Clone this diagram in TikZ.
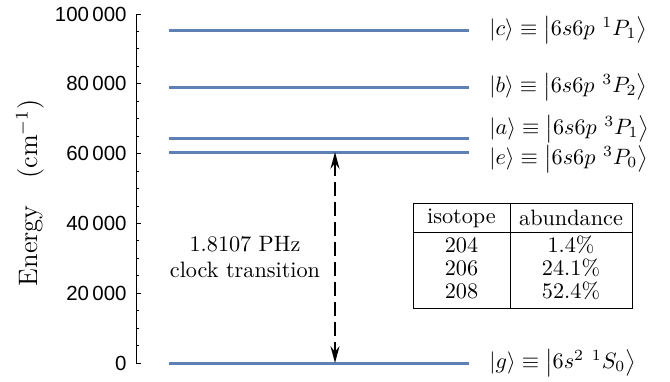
\documentclass[tikz,border=0pt]{standalone}
\usepackage{fontspec}
\newfontfamily\ticksf{Liberation Sans}
\usetikzlibrary{arrows.meta,positioning}
\definecolor{levelblue}{RGB}{94,129,181}

\begin{document}
\begin{tikzpicture}[x=0.45pt,y=-0.45pt,
    level/.style={draw=levelblue,line width=1.35pt},
    statelabel/.style={anchor=west,inner sep=0pt,font=\fontsize{10.3}{12}\selectfont},
    ticklabel/.style={anchor=east,inner sep=0pt,font=\ticksf\fontsize{9.2}{11}\selectfont},
    cell/.style={inner sep=0pt}]
    \useasboundingbox (0,0) rectangle (670,381);
    \draw[line width=0.45pt] (136,14) -- (136,363);
    \foreach \k in {5,10,...,95} \draw[line width=0.4pt] (136,{363-3.49*\k}) -- ++(2.5,0);
    \foreach \k/\lab in {0/0,20/20\,000,40/40\,000,60/60\,000,80/80\,000,100/100\,000}
        \draw[line width=0.4pt] (136,{363-3.49*\k}) -- ++(4.5,0) node[ticklabel] at (127,{363-3.49*\k}) {\lab};
    \node[rotate=90,inner sep=0pt,font=\fontsize{12}{14}\selectfont] (elabel) at (30,193) {Energy\quad$\left(\mathrm{cm}^{-1}\right)$};

    \draw[level] (169,30) -- (469,30);
    \draw[level] (169,87) -- (469,87);
    \draw[level] (169,138) -- (469,138);
    \draw[level] (169,152) -- (469,152);
    \draw[level] (169,363) -- (469,363);
    \node[statelabel] (lc) at (489,30) {$|c\rangle\equiv\left|6s6p\ {}^1P_1\right\rangle$};
    \node[statelabel] (lb) at (489,87) {$|b\rangle\equiv\left|6s6p\ {}^3P_2\right\rangle$};
    \node[statelabel] (la) at (489,129) {$|a\rangle\equiv\left|6s6p\ {}^3P_1\right\rangle$};
    \node[statelabel] (le) at (489,159) {$|e\rangle\equiv\left|6s6p\ {}^3P_0\right\rangle$};
    \node[statelabel] (lg) at (489,363) {$|g\rangle\equiv\left|6s^2\ {}^1S_0\right\rangle$};

    \coordinate (eup) at (335,152);
    \coordinate (gdown) at (335,363);
    \draw[line width=0.9pt,dash pattern=on 6pt off 3pt,{Stealth[length=7.5pt,width=4pt]}-{Stealth[length=7.5pt,width=4pt]}] (eup) -- (gdown);
    \node[align=center] (clock) at (245,257) {1.8107 PHz\\clock transition};

    \draw[line width=0.45pt] (413,203) rectangle (632,308);
    \draw[line width=0.45pt] (510,203) -- (510,308);
    \draw[line width=0.45pt] (413,232) -- (632,232);
    \node[cell] (hiso) at (461.5,218) {isotope};
    \node[cell] (habu) at (571,218) {abundance};
    \node[cell] (iso1) at (461.5,245) {204};
    \node[cell] (abu1) at (571,245) {1.4\%};
    \node[cell] (iso2) at (461.5,268) {206};
    \node[cell] (abu2) at (571,268) {24.1\%};
    \node[cell] (iso3) at (461.5,291) {208};
    \node[cell] (abu3) at (571,291) {52.4\%};
\end{tikzpicture}
\end{document}
